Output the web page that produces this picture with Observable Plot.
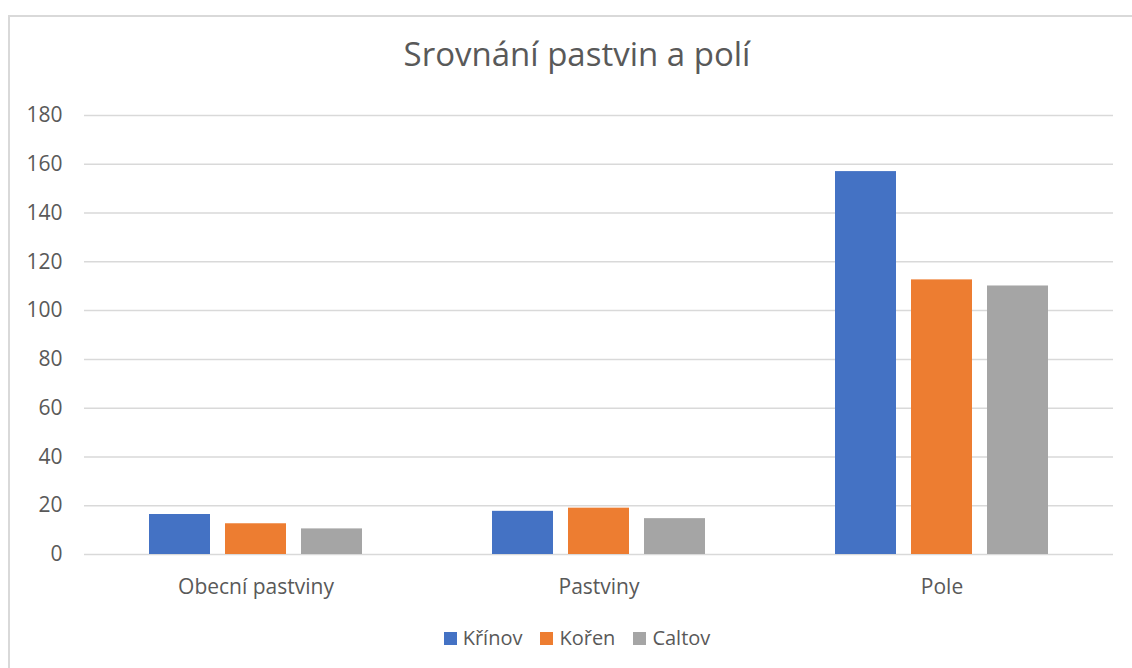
<!DOCTYPE html>
<html>
<head>
<meta charset="utf-8">
<script src="https://cdn.jsdelivr.net/npm/d3@7"></script>
<script src="https://cdn.jsdelivr.net/npm/@observablehq/plot@0.6"></script>
<style>
  html, body { margin: 0; padding: 0; background: #fff; }
  body { width: 1132px; height: 668px; overflow: hidden; position: relative; font-family: "Open Sans", sans-serif; color: #595959; }
  #frame { position: absolute; left: 8px; top: 15px; width: 1140px; height: 670px; border-left: 2px solid #d9d9d9; border-top: 2px solid #d9d9d9; box-sizing: border-box; pointer-events: none; }
  #title { height: 100px; box-sizing: border-box; padding-top: 32px; line-height: 44px; font-size: 33px; text-align: center; padding-left: 22px; }
  #chart svg { display: block; }
  #legend { margin-top: 16px; display: flex; justify-content: center; gap: 18px; font-size: 20px; line-height: 24px; padding-left: 22px; }
  .item { display: flex; align-items: center; gap: 6px; }
  .sw { width: 13px; height: 13px; display: inline-block; }
</style>
</head>
<body>
<div id="frame"></div>
<div id="title">Srovnání pastvin a polí</div>
<div id="chart"></div>
<div id="legend"></div>
<script>
const categories = ["Obecní pastviny", "Pastviny", "Pole"];
const series = ["Křínov", "Kořen", "Caltov"];
const colors = ["#4472C4", "#ED7D31", "#A5A5A5"];
const krinov = [16.4, 17.7, 157.0];
const koren = [12.6, 19.0, 112.6];
const caltov = [10.5, 14.7, 110.1];
const yTicks = [0, 20, 40, 60, 80, 100, 120, 140, 160, 180];

const valuesBySeries = [krinov, koren, caltov];
const data = [];
series.forEach((s, si) => {
  categories.forEach((c, ci) => {
    data.push({category: c, series: s, value: valuesBySeries[si][ci]});
  });
});

const plot = Plot.plot({
  width: 1132,
  height: 510,
  marginTop: 15,
  marginBottom: 56,
  marginLeft: 84,
  marginRight: 18.5,
  style: {fontSize: "21px", fontFamily: "Open Sans", color: "#595959", background: "transparent"},
  fx: {domain: categories, padding: 0, label: null, tickSize: 0, tickPadding: 25},
  x: {domain: series, axis: null, paddingInner: 0.2, paddingOuter: 0.85},
  y: {domain: [0, 180], ticks: yTicks, label: null, tickSize: 0, tickPadding: 22, grid: false},
  color: {domain: series, range: colors},
  marks: [
    Plot.ruleY(yTicks, {stroke: "#d9d9d9", strokeWidth: 1.5, strokeOpacity: 1}),
    Plot.barY(data, {fx: "category", x: "series", y: "value", fill: "series"})
  ]
});
document.getElementById("chart").appendChild(plot);

const legend = document.getElementById("legend");
series.forEach((s, i) => {
  const it = document.createElement("div");
  it.className = "item";
  const sw = document.createElement("span");
  sw.className = "sw";
  sw.style.background = colors[i];
  const t = document.createElement("span");
  t.textContent = s;
  it.appendChild(sw);
  it.appendChild(t);
  legend.appendChild(it);
});
</script>
</body>
</html>
